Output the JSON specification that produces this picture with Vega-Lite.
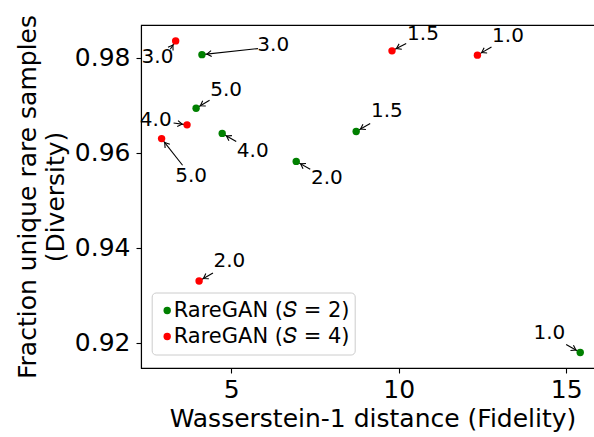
{
  "$schema": "https://vega.github.io/schema/vega-lite/v6.json",
  "width": 463,
  "height": 343,
  "autosize": {"type": "none"},
  "padding": {"left": 141, "top": 25, "right": 0, "bottom": 69},
  "background": "white",
  "config": {
    "view": {"stroke": "black", "strokeWidth": 1.1},
    "font": "DejaVu Sans",
    "axis": {
      "grid": false,
      "domainColor": "black",
      "domainWidth": 1.1,
      "tickColor": "black",
      "tickWidth": 1.1,
      "tickSize": 5,
      "labelFont": "DejaVu Sans",
      "labelFontSize": 25,
      "labelColor": "black",
      "titleFont": "DejaVu Sans",
      "titleFontSize": 25,
      "titleFontWeight": "normal",
      "titleColor": "black"
    }
  },
  "data": {
    "values": [
      {"series": "RareGAN (𝑆 = 2)", "label": "1.0", "x": 15.42, "y": 0.9179, "lx": 14.499, "ly": 0.92204, "ax": 15.0, "ay": 0.9196},
      {"series": "RareGAN (𝑆 = 2)", "label": "1.5", "x": 8.73, "y": 0.9645, "lx": 9.648, "ly": 0.96872, "ax": 9.149, "ay": 0.96617},
      {"series": "RareGAN (𝑆 = 2)", "label": "2.0", "x": 6.94, "y": 0.9582, "lx": 7.857, "ly": 0.95469, "ax": 7.358, "ay": 0.95654},
      {"series": "RareGAN (𝑆 = 2)", "label": "3.0", "x": 4.125, "y": 0.9807, "lx": 6.254, "ly": 0.98268, "ax": 5.797, "ay": 0.98198},
      {"series": "RareGAN (𝑆 = 2)", "label": "4.0", "x": 4.73, "y": 0.9641, "lx": 5.642, "ly": 0.96048, "ax": 5.149, "ay": 0.96238},
      {"series": "RareGAN (𝑆 = 2)", "label": "5.0", "x": 3.95, "y": 0.9694, "lx": 4.845, "ly": 0.97334, "ax": 4.352, "ay": 0.97109},
      {"series": "RareGAN (𝑆 = 4)", "label": "1.0", "x": 12.35, "y": 0.9806, "lx": 13.263, "ly": 0.98468, "ax": 12.77, "ay": 0.98232},
      {"series": "RareGAN (𝑆 = 4)", "label": "1.5", "x": 9.8, "y": 0.9815, "lx": 10.725, "ly": 0.98506, "ax": 10.224, "ay": 0.98303},
      {"series": "RareGAN (𝑆 = 4)", "label": "2.0", "x": 4.04, "y": 0.933, "lx": 4.946, "ly": 0.93711, "ax": 4.454, "ay": 0.93469},
      {"series": "RareGAN (𝑆 = 4)", "label": "3.0", "x": 3.34, "y": 0.9836, "lx": 2.797, "ly": 0.98021, "ax": 3.179, "ay": 0.98183},
      {"series": "RareGAN (𝑆 = 4)", "label": "4.0", "x": 3.68, "y": 0.9659, "lx": 2.746, "ly": 0.96702, "ax": 3.278, "ay": 0.9663},
      {"series": "RareGAN (𝑆 = 4)", "label": "5.0", "x": 2.92, "y": 0.963, "lx": 3.8, "ly": 0.95517, "ax": 3.546, "ay": 0.95739}
    ]
  },
  "layer": [
    {
      "mark": {"type": "rule", "color": "black", "strokeWidth": 1.1},
      "encoding": {
        "x": {"field": "x", "type": "quantitative", "scale": {"domain": [2.305, 16.13], "nice": false, "zero": false},
          "axis": {"values": [5, 10, 15], "labelPadding": 4, "title": "Wasserstein-1 distance (Fidelity)", "titleBaseline": "alphabetic", "titleY": 58}},
        "y": {"field": "y", "type": "quantitative", "scale": {"domain": [0.91465, 0.98695], "nice": false, "zero": false},
          "axis": {"values": [0.92, 0.94, 0.96, 0.98], "format": ".2f", "labelPadding": 6,
            "title": ["Fraction unique rare samples", "(Diversity)"], "titleAngle": -90, "titleBaseline": "alphabetic", "titleAlign": "center", "titleX": -106, "titleY": 171.5, "titleLineHeight": 28}},
        "x2": {"field": "ax"},
        "y2": {"field": "ay"}
      }
    },
    {
      "transform": [{"calculate": "atan2((datum.ax - datum.x) * 33.49, (datum.ay - datum.y) * 4744) * 180 / PI", "as": "ang"}],
      "mark": {"type": "point", "shape": "M -0.3,-0.95 L 0,-0.5 L 0.3,-0.95", "filled": false, "stroke": "black", "strokeWidth": 1.1, "size": 400, "opacity": 1},
      "encoding": {
        "x": {"field": "x", "type": "quantitative"},
        "y": {"field": "y", "type": "quantitative"},
        "angle": {"field": "ang", "type": "quantitative", "scale": null}
      }
    },
    {
      "mark": {"type": "circle", "size": 55, "opacity": 1},
      "encoding": {
        "x": {"field": "x", "type": "quantitative"},
        "y": {"field": "y", "type": "quantitative"},
        "color": {"field": "series", "type": "nominal",
          "scale": {"domain": ["RareGAN (𝑆 = 2)", "RareGAN (𝑆 = 4)"], "range": ["#008000", "#ff0000"]},
          "legend": {"title": null, "orient": "none", "legendX": 10.7, "legendY": 267.5, "padding": 5, "clipHeight": 26,
            "fillColor": "rgba(255,255,255,0.8)", "strokeColor": "#cccccc", "cornerRadius": 4,
            "labelFont": "DejaVu Sans", "labelFontSize": 21, "labelColor": "black", "labelLimit": 400,
            "symbolSize": 55, "symbolType": "circle", "labelOffset": -4, "rowPadding": 0, "symbolOpacity": 1}}
      }
    },
    {
      "mark": {"type": "text", "fontSize": 20, "font": "DejaVu Sans", "color": "black", "align": "center", "baseline": "middle"},
      "encoding": {
        "x": {"field": "lx", "type": "quantitative"},
        "y": {"field": "ly", "type": "quantitative"},
        "text": {"field": "label"}
      }
    }
  ]
}
